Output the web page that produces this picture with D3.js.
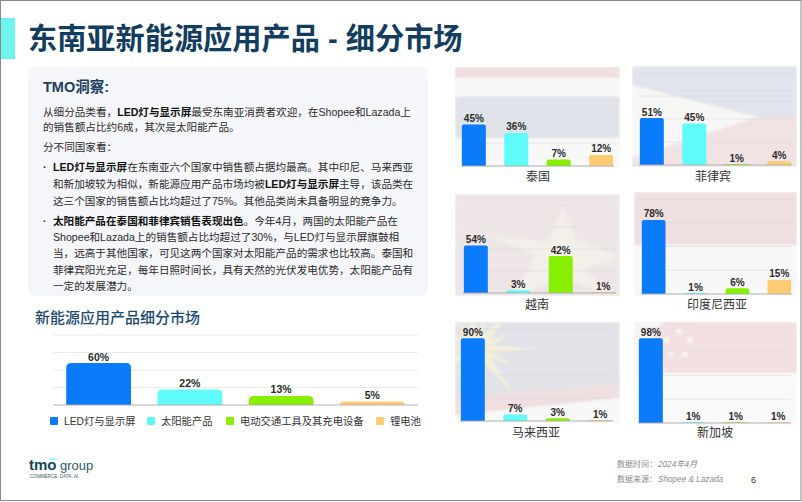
<!DOCTYPE html>
<html>
<head>
<meta charset="utf-8">
<script src="https://cdn.jsdelivr.net/npm/d3@7"></script>
<style>
  html, body { margin: 0; padding: 0; background: #fff; overflow: hidden; }
  svg { display: block; }
  text { font-family: "Liberation Sans", "Noto Sans CJK SC", sans-serif; }
</style>
</head>
<body>
<div id="chart"></div>
<script>
const categories = ["LED灯与显示屏", "太阳能产品", "电动交通工具及其充电设备", "锂电池"];
const colors = ["#0a7bfb", "#5ffbfb", "#86f000", "#fdcb70"];

const marketValues = [60, 22, 13, 5];

const countries = ["泰国", "菲律宾", "越南", "印度尼西亚", "马来西亚", "新加坡"];
const thailand = [45, 36, 7, 12];
const philippines = [51, 45, 1, 4];
const vietnam = [54, 3, 42, 1];
const indonesia = [78, 1, 6, 15];
const malaysia = [90, 7, 3, 1];
const singapore = [98, 1, 1, 1];
const countryValues = [thailand, philippines, vietnam, indonesia, malaysia, singapore];
const countryMax = [100, 100, 100, 100, 100, 110];

const titleText = "东南亚新能源应用产品 - 细分市场";
const insightTitle = "TMO洞察:";
const marketTitle = "新能源应用产品细分市场";

// ** marks the bold runs
const paragraphLines = [
  "从细分品类看，**LED灯与显示屏**最受东南亚消费者欢迎，在Shopee和Lazada上",
  "的销售额占比约6成，其次是太阳能产品。",
  "分不同国家看："
];
const bulletLines = [
  "**LED灯与显示屏**在东南亚六个国家中销售额占据均最高。其中印尼、马来西亚",
  "和新加坡较为相似，新能源应用产品市场均被**LED灯与显示屏**主导，该品类在",
  "这三个国家的销售额占比均超过了75%。其他品类尚未具备明显的竞争力。",
  "**太阳能产品在泰国和菲律宾销售表现出色**。今年4月，两国的太阳能产品在",
  "Shopee和Lazada上的销售额占比均超过了30%，与LED灯与显示屏旗鼓相",
  "当，远高于其他国家，可见这两个国家对太阳能产品的需求也比较高。泰国和",
  "菲律宾阳光充足，每年日照时间长，具有天然的光伏发电优势，太阳能产品有",
  "一定的发展潜力。"
];

const svg = d3.select("#chart").append("svg").attr("width", 802).attr("height", 502);
const defs = svg.append("defs");
defs.append("filter").attr("id", "soft").append("feGaussianBlur").attr("stdDeviation", 0.8);

// slide frame
svg.append("rect").attr("x", 0.5).attr("y", 0.5).attr("width", 800.5).attr("height", 500)
  .attr("fill", "#fff").attr("stroke", "#8a8a8a");

// header
svg.append("rect").attr("x", 1).attr("y", 18).attr("width", 14).attr("height", 41).attr("fill", "#6ff5f0");
svg.append("text").attr("x", 28).attr("y", 49).attr("font-size", 29.2).attr("font-weight", 700)
  .attr("fill", "#123d5e").text(titleText);

// insight panel
svg.append("rect").attr("x", 28).attr("y", 67).attr("width", 400).attr("height", 229).attr("rx", 8)
  .attr("fill", "#f5f6f9");
svg.append("text").attr("x", 43).attr("y", 92).attr("font-size", 14.5).attr("font-weight", 700)
  .attr("fill", "#1c3f5f").text(insightTitle);

function richLine(x, y, line) {
  const t = svg.append("text").attr("x", x).attr("y", y).attr("font-size", 10.6).attr("fill", "#2a2a2a");
  line.split("**").forEach((part, i) => {
    t.append("tspan").attr("font-weight", i % 2 ? 700 : 400).attr("fill", i % 2 ? "#111" : null).text(part);
  });
}
const paragraphY = [116, 131, 151];
paragraphLines.forEach((l, i) => richLine(43, paragraphY[i], l));
const bulletY = [171, 188, 205, 225, 241, 257, 274, 290];
bulletLines.forEach((l, i) => richLine(53, bulletY[i], l));
[171, 225].forEach((y) => svg.append("text").attr("x", 43).attr("y", y).attr("font-size", 10.6)
  .attr("font-weight", 700).attr("fill", "#333").text("·"));

// bars with rounded top corners, radius kept under the bar height
function barPath(x, w, y, base, r) {
  const rr = Math.min(r, base - y, w / 2);
  const p = d3.path();
  p.moveTo(x, base);
  p.lineTo(x, y + rr);
  p.quadraticCurveTo(x, y, x + rr, y);
  p.lineTo(x + w - rr, y);
  p.quadraticCurveTo(x + w, y, x + w, y + rr);
  p.lineTo(x + w, base);
  p.closePath();
  return p.toString();
}

function drawBars(g, values, box, maxValue, radius, padInner, padOuter, fontSize) {
  const x = d3.scaleBand().domain(categories).range([box.left, box.right])
    .paddingInner(padInner).paddingOuter(padOuter);
  const y = d3.scaleLinear().domain([0, maxValue]).range([box.base, box.top]);

  g.selectAll(".grid").data(d3.range(1, 5)).enter().append("line")
    .attr("class", "grid")
    .attr("x1", box.left).attr("x2", box.right)
    .attr("y1", (d) => y(maxValue * d / 4)).attr("y2", (d) => y(maxValue * d / 4))
    .attr("stroke", "#d4d6da").attr("stroke-opacity", 0.7).attr("stroke-width", 0.7);

  g.selectAll(".bar").data(values).enter().append("path")
    .attr("class", "bar")
    .attr("d", (d, i) => barPath(x(categories[i]), x.bandwidth(), y(d), box.base, radius))
    .attr("fill", (d, i) => colors[i]);

  g.append("line").attr("x1", box.left).attr("x2", box.right)
    .attr("y1", box.base).attr("y2", box.base)
    .attr("stroke", "#a9a9a9").attr("stroke-width", 0.9);

  g.selectAll(".val").data(values).enter().append("text")
    .attr("class", "val")
    .attr("x", (d, i) => x(categories[i]) + x.bandwidth() / 2)
    .attr("y", (d) => y(d) - 2.5)
    .attr("text-anchor", "middle").attr("font-size", fontSize)
    .attr("font-weight", 700).attr("fill", "#2b2b2b")
    .text((d) => d + "%");
}

// market chart
svg.append("text").attr("x", 35).attr("y", 323).attr("font-size", 15).attr("font-weight", 500)
  .attr("fill", "#1b4a72").text(marketTitle);
drawBars(svg.append("g"), marketValues, { left: 53, right: 418, top: 335, base: 405 }, 100, 5, 0.29, 0.145, 10.5);

const legendX = [50, 147, 226, 376];
const legend = svg.selectAll(".legend").data(categories).enter().append("g")
  .attr("class", "legend").attr("transform", (d, i) => "translate(" + legendX[i] + ",417)");
legend.append("rect").attr("width", 8).attr("height", 8).attr("rx", 1).attr("fill", (d, i) => colors[i]);
legend.append("text").attr("x", 14).attr("y", 8).attr("font-size", 10.3).attr("fill", "#333").text((d) => d);

// flag backdrops, one painter per country
const flagPainters = [
  (g, b) => {
    rect(g, b.x, b.y, b.w, b.h, "#f8f8f8");
    rect(g, b.x, b.y, b.w, 11, "#f2dfe0");
    rect(g, b.x, b.y + 30, b.w, 41, "#e1e3ea");
  },
  (g, b) => {
    rect(g, b.x, b.y, b.w, 51, "#e1e4ec");
    rect(g, b.x, b.y + 51, b.w, 50, "#f1e2e3");
    poly(g, [[b.x, b.y + 19], [b.x + 126, b.y + 51], [b.x, b.y + 92]], "#f7f7f5");
  },
  (g, b) => {
    rect(g, b.x, b.y, b.w, b.h, "#eee6e6");
    poly(g, [[b.x + 108, b.y + 14], [b.x + 120, b.y + 44], [b.x + 165, b.y + 64], [b.x + 130, b.y + 74],
      [b.x + 155, b.y + 102], [b.x + 108, b.y + 84], [b.x + 60, b.y + 102], [b.x + 80, b.y + 62],
      [b.x + 33, b.y + 41], [b.x + 92, b.y + 48]], "#f2f0e8");
  },
  (g, b) => {
    rect(g, b.x, b.y, b.w, b.h, "#f8f8f9");
    rect(g, b.x, b.y, b.w, 53, "#efdfe1");
  },
  (g, b) => {
    rect(g, b.x, b.y, b.w, b.h, "#e2e3e9");
    poly(g, [[b.x, b.y + 76], [b.x + b.w, b.y + 61], [b.x + b.w, b.y + 76], [b.x, b.y + 93]], "#efdfe1");
    poly(g, [[b.x, b.y + 93], [b.x + b.w, b.y + 76], [b.x + b.w, b.y + b.h], [b.x, b.y + b.h]], "#f8f8f8");
    d3.range(0, 14).forEach((k) => {
      const a = k * Math.PI / 7;
      const len = k % 2 ? 36 : 60;
      poly(g, [[b.x + 23 + len * Math.cos(a), b.y + 27 + len * Math.sin(a)],
        [b.x + 23 + 9 * Math.cos(a + 0.5), b.y + 27 + 9 * Math.sin(a + 0.5)],
        [b.x + 23 + 9 * Math.cos(a - 0.5), b.y + 27 + 9 * Math.sin(a - 0.5)]], "#f3efdc");
    });
  },
  (g, b) => {
    rect(g, b.x, b.y, b.w, b.h, "#f9f9f9");
    rect(g, b.x, b.y, b.w, 51, "#f3e0e2");
    g.append("circle").attr("cx", b.x + 11).attr("cy", b.y + 22).attr("r", 33).attr("fill", "#faf5f5");
    g.append("circle").attr("cx", b.x + 46).attr("cy", b.y + 23).attr("r", 28).attr("fill", "#f3e0e2");
    [[45, 9], [33, 18], [56, 18], [37, 32], [51, 32]].forEach((s) => star(g, b.x + s[0], b.y + s[1], 4.5, "#fbf8f8"));
  }
];
function rect(g, x, y, w, h, fill) {
  g.append("rect").attr("x", x).attr("y", y).attr("width", w).attr("height", h).attr("fill", fill);
}
function poly(g, pts, fill) {
  g.append("polygon").attr("points", pts.join(" ")).attr("fill", fill);
}
function star(g, cx, cy, r, fill) {
  const pts = d3.range(10).map((k) => {
    const a = -Math.PI / 2 + k * Math.PI / 5;
    const rr = k % 2 ? r * 0.382 : r;
    return [cx + rr * Math.cos(a), cy + rr * Math.sin(a)];
  });
  poly(g, pts, fill);
}

const flagBoxes = [
  { x: 455, y: 67, w: 165, h: 101 },
  { x: 632, y: 66, w: 165, h: 101 },
  { x: 455, y: 194, w: 165, h: 102 },
  { x: 634, y: 192, w: 163, h: 104 },
  { x: 455, y: 322, w: 165, h: 101 },
  { x: 634, y: 322, w: 163, h: 103 }
];
const plotBoxes = [
  { left: 461, right: 614, top: 74, base: 166 },
  { left: 639, right: 792, top: 73, base: 165 },
  { left: 463, right: 616, top: 205, base: 293 },
  { left: 641, right: 792, top: 199, base: 294 },
  { left: 460, right: 613, top: 329, base: 421 },
  { left: 638, right: 791, top: 328, base: 423 }
];
const labelX = [538, 713, 537, 717, 536, 715];
const labelY = [181, 181, 309, 309, 437, 437];

countries.forEach((name, i) => {
  const b = flagBoxes[i];
  const clipId = "flag" + i;
  defs.append("clipPath").attr("id", clipId).append("rect")
    .attr("x", b.x).attr("y", b.y).attr("width", b.w).attr("height", b.h);
  const flag = svg.append("g").attr("clip-path", "url(#" + clipId + ")")
    .append("g").attr("filter", "url(#soft)");
  flagPainters[i](flag, b);
  drawBars(svg.append("g"), countryValues[i], plotBoxes[i], countryMax[i], 2, 0.435, 0.02, 10);
  svg.append("text").attr("x", labelX[i]).attr("y", labelY[i])
    .attr("text-anchor", "middle").attr("font-size", 12).attr("fill", "#333").text(name);
});

// logo
svg.append("text").attr("x", 29).attr("y", 470).attr("font-size", 15).attr("font-weight", 700)
  .attr("fill", "#14475c").text("tmo");
svg.append("rect").attr("x", 49).attr("y", 458.5).attr("width", 8).attr("height", 1.2).attr("fill", "#6ff5f0");
svg.append("text").attr("x", 60).attr("y", 470).attr("font-size", 13).attr("fill", "#2c5a6c").text("group");
svg.append("text").attr("x", 30).attr("y", 477.5).attr("font-size", 4.6).attr("fill", "#3d6070").text("COMMERCE. DATA. AI.");

// footer
const footer = [["数据时间：", "2024年4月", 467], ["数据来源：", "Shopee & Lazada", 482]];
footer.forEach((f) => {
  svg.append("text").attr("x", 617).attr("y", f[2]).attr("font-size", 8).attr("fill", "#8a8a8a").text(f[0]);
  svg.append("text").attr("x", 658).attr("y", f[2]).attr("font-size", 8.2).attr("font-style", "italic")
    .attr("fill", "#8a8a8a").text(f[1]);
});
svg.append("text").attr("x", 751).attr("y", 483).attr("font-size", 9).attr("fill", "#333").text("6");
</script>
</body>
</html>
